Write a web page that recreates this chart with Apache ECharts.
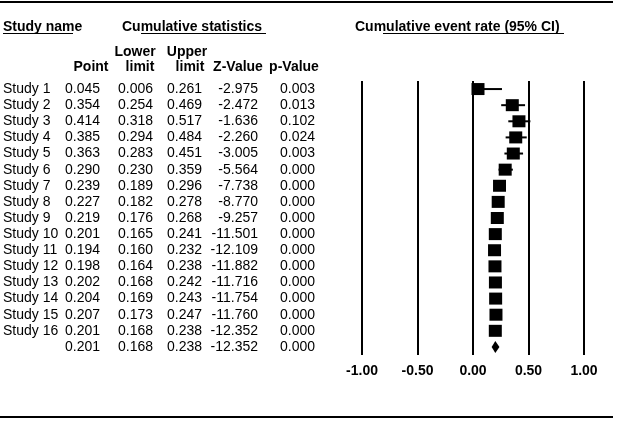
<!DOCTYPE html>
<html>
<head>
<meta charset="utf-8">
<script src="https://cdn.jsdelivr.net/npm/echarts@6/dist/echarts.min.js"></script>
<style>html,body{margin:0;padding:0;background:#fff;}#c{width:617px;height:422px;}</style>
</head>
<body>
<div id="c"></div>
<script>
var studies = ["Study 1","Study 2","Study 3","Study 4","Study 5","Study 6","Study 7","Study 8","Study 9","Study 10","Study 11","Study 12","Study 13","Study 14","Study 15","Study 16"];
var pointVals = [0.045,0.354,0.414,0.385,0.363,0.290,0.239,0.227,0.219,0.201,0.194,0.198,0.202,0.204,0.207,0.201];
var lowerVals = [0.006,0.254,0.318,0.294,0.283,0.230,0.189,0.182,0.176,0.165,0.160,0.164,0.168,0.169,0.173,0.168];
var upperVals = [0.261,0.469,0.517,0.484,0.451,0.359,0.296,0.278,0.268,0.241,0.232,0.238,0.242,0.243,0.247,0.238];
var zVals = [-2.975,-2.472,-1.636,-2.260,-3.005,-5.564,-7.738,-8.770,-9.257,-11.501,-12.109,-11.882,-11.716,-11.754,-11.760,-12.352];
var pVals = [0.003,0.013,0.102,0.024,0.003,0.000,0.000,0.000,0.000,0.000,0.000,0.000,0.000,0.000,0.000,0.000];
var summaryPoint = 0.201, summaryLower = 0.168, summaryUpper = 0.238, summaryZ = -12.352, summaryP = 0.000;
var xTicks = [-1.00, -0.50, 0.00, 0.50, 1.00];

var FONT = 'Liberation Sans, Arial, sans-serif';
var rows = studies.concat([""]);
var tableRows = rows.map(function(name, i){
  if (i < studies.length) return [0, i, name, pointVals[i], lowerVals[i], upperVals[i], zVals[i], pVals[i]];
  return [0, i, name, summaryPoint, summaryLower, summaryUpper, summaryZ, summaryP];
});

var chart = echarts.init(document.getElementById('c'), null, {renderer:'canvas'});

function txt(x, y, s, align, bold){
  return {type:'text', x:x, y:y, silent:true, style:{text:s, fill:'#000', font:(bold?'bold ':'')+'14px '+FONT, align:align, verticalAlign:'middle'}};
}

var option = {
  animation:false,
  backgroundColor:'#fff',
  grid:{left:362, right:33, top:81, bottom:67},
  xAxis:{type:'value', min:xTicks[0], max:xTicks[xTicks.length-1], interval:0.5,
    axisLine:{show:false}, axisTick:{show:false},
    splitLine:{show:true, lineStyle:{color:'#000', width:2}},
    axisLabel:{margin:9, color:'#000', fontWeight:'bold', fontSize:14, fontFamily:FONT,
      formatter:function(v){ return v.toFixed(2); }}
  },
  yAxis:{type:'category', data:rows, inverse:true, show:false},
  graphic:[
    {type:'line', shape:{x1:0,y1:2,x2:613,y2:2}, style:{stroke:'#000', lineWidth:2}},
    {type:'line', shape:{x1:0,y1:417,x2:613,y2:417}, style:{stroke:'#000', lineWidth:2}},
    txt(3, 27, 'Study name', 'left', true),
    {type:'line', shape:{x1:3,y1:33.5,x2:73,y2:33.5}, style:{stroke:'#000', lineWidth:1}},
    txt(122, 27, 'Cumulative statistics', 'left', true),
    {type:'line', shape:{x1:141,y1:33.5,x2:266,y2:33.5}, style:{stroke:'#000', lineWidth:1}},
    txt(355, 27, 'Cumulative event rate (95% CI)', 'left', true),
    {type:'line', shape:{x1:383,y1:33.5,x2:564,y2:33.5}, style:{stroke:'#000', lineWidth:1}},
    txt(135, 52, 'Lower', 'center', true),
    txt(187, 52, 'Upper', 'center', true),
    txt(91, 67, 'Point', 'center', true),
    txt(140, 67, 'limit', 'center', true),
    txt(190, 67, 'limit', 'center', true),
    txt(238, 67, 'Z-Value', 'center', true),
    txt(294, 67, 'p-Value', 'center', true)
  ],
  series:[
    {
      type:'custom', name:'table', clip:false, silent:true,
      encode:{x:0, y:1},
      data:tableRows,
      renderItem:function(params, api){
        var idx = api.value(1);
        var y = api.coord([0, idx])[1];
        var d = tableRows[params.dataIndex];
        return {type:'group', children:[
          txt(3, y, d[2], 'left', false),
          txt(100, y, d[3].toFixed(3), 'right', false),
          txt(153, y, d[4].toFixed(3), 'right', false),
          txt(202, y, d[5].toFixed(3), 'right', false),
          txt(258, y, d[6].toFixed(3), 'right', false),
          txt(315, y, d[7].toFixed(3), 'right', false)
        ]};
      }
    },
    {
      type:'custom', name:'ci', silent:true, z:1,
      encode:{x:[0,1], y:2},
      data:studies.map(function(s,i){ return [lowerVals[i], upperVals[i], i]; }),
      renderItem:function(params, api){
        var a = api.coord([api.value(0), api.value(2)]);
        var b = api.coord([api.value(1), api.value(2)]);
        return {type:'line', shape:{x1:a[0], y1:a[1], x2:b[0], y2:b[1]}, style:{stroke:'#000', lineWidth:2}};
      }
    },
    {
      type:'scatter', name:'point', silent:true,
      symbol:'rect', symbolSize:[13,12],
      itemStyle:{color:'#000', opacity:1},
      data:studies.map(function(s,i){ return [pointVals[i], i]; }),
      z:5
    },
    {
      type:'custom', name:'summary', silent:true,
      encode:{x:[0,1,2], y:3},
      data:[[summaryLower, summaryPoint, summaryUpper, studies.length]],
      renderItem:function(params, api){
        var l = api.coord([api.value(0), api.value(3)]);
        var p = api.coord([api.value(1), api.value(3)]);
        var u = api.coord([api.value(2), api.value(3)]);
        return {type:'polygon', shape:{points:[[l[0], l[1]], [p[0], p[1]-6], [u[0], u[1]], [p[0], p[1]+6]]}, style:{fill:'#000'}};
      }
    }
  ]
};
chart.setOption(option);
</script>
</body>
</html>
